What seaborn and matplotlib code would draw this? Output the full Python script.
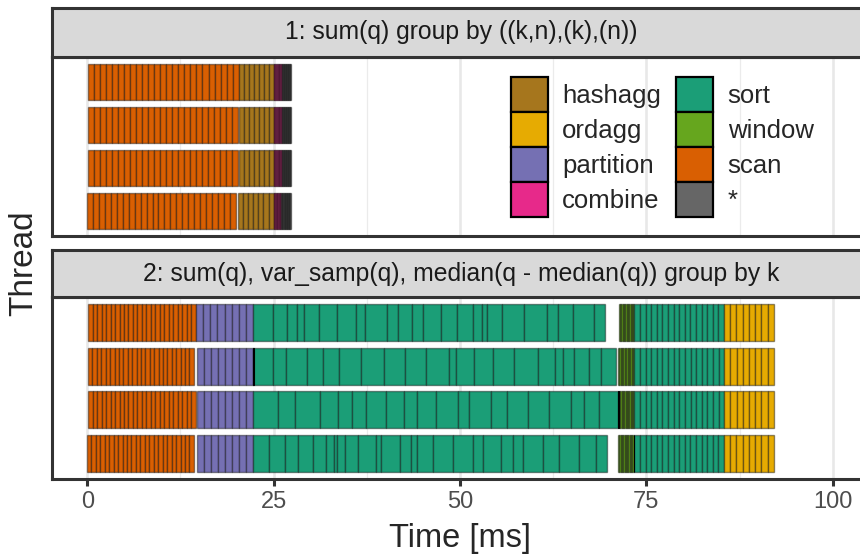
import numpy as np
import matplotlib
matplotlib.use("Agg")
import matplotlib.pyplot as plt
from matplotlib.patches import Patch
import seaborn as sns

sns.set_theme(style="white")
plt.rcParams["font.family"] = ["Liberation Sans", "DejaVu Sans"]

# operator palette (ColorBrewer Dark2)
dark2 = sns.color_palette("Dark2", 8).as_hex()
phase_colors = {
    "sort": dark2[0], "scan": dark2[1], "partition": dark2[2], "combine": dark2[3],
    "window": dark2[4], "ordagg": dark2[5], "hashagg": dark2[6], "*": dark2[7],
}
legend_order = ["hashagg", "ordagg", "partition", "combine", "sort", "window", "scan", "*"]

threads = [1, 2, 3, 4]
time_ticks = [0, 25, 50, 75, 100]

# ---- query 1 ---------------------------------------------------------------
q1_title = "1: sum(q) group by ((k,n),(k),(n))"
q1_phases = ["scan", "hashagg", "combine", "*"]
q1_start = [
    [0.10, 20.30, 25.00, 26.10],
    [0.10, 20.30, 25.00, 26.10],
    [0.10, 20.40, 25.00, 26.10],
    [-0.05, 20.20, 25.00, 26.00],
]
q1_end = [
    [20.30, 25.00, 26.10, 27.30],
    [20.20, 25.00, 26.10, 27.30],
    [20.20, 25.00, 26.10, 27.30],
    [19.95, 25.00, 26.00, 27.30],
]
q1_morsels = [25, 7, 10, 14]

# ---- query 2 ---------------------------------------------------------------
q2_title = "2: sum(q), var_samp(q), median(q - median(q)) group by k"
q2_phases = ["scan", "partition", "sort", "window", "sort", "ordagg"]
q2_start = [
    [0.10, 14.57, 22.29, 71.30, 73.40, 85.40],
    [0.10, 14.70, 22.29, 71.20, 73.40, 85.45],
    [0.10, 14.70, 22.29, 71.35, 73.40, 85.45],
    [-0.05, 14.70, 22.29, 71.20, 73.40, 85.40],
]
q2_end = [
    [14.57, 22.29, 69.44, 73.40, 85.40, 92.10],
    [14.30, 22.29, 70.87, 73.40, 85.45, 92.10],
    [14.57, 22.29, 71.22, 73.40, 85.45, 92.10],
    [14.30, 22.29, 69.67, 73.30, 85.40, 92.10],
]
q2_morsels = [24, 8, None, 12, 16, 8]
# morsel boundaries inside the first sort phase, per thread
q2_sort_cuts = [
    [24.97, 26.77, 28.19, 29.13, 31.10, 33.47, 36.06, 37.27, 40.17, 41.73, 43.61, 45.00,
     47.41, 49.56, 51.78, 52.91, 53.66, 55.59, 58.58, 61.62, 63.18, 65.11, 67.96],
    [24.97, 26.68, 29.53, 31.59, 33.82, 36.69, 39.81, 42.63, 45.40, 48.53, 49.46, 51.88,
     54.46, 57.28, 60.50, 62.73, 63.85, 65.32, 67.29, 68.86],
    [25.64, 27.88, 31.23, 33.61, 35.48, 37.40, 40.08, 42.49, 44.19, 46.78, 49.69, 51.25,
     54.16, 56.26, 59.16, 61.97, 64.84, 66.66, 68.63],
    [24.43, 26.54, 28.32, 30.34, 32.04, 33.11, 33.56, 34.58, 36.37, 38.70, 39.37, 41.96,
     43.39, 44.28, 46.34, 49.03, 51.79, 53.13, 55.50, 57.15, 58.49, 61.17, 63.31, 65.99,
     68.23],
]
# short uncategorised slivers (thread, start, end)
q2_slivers = [(2, 22.22, 22.34), (3, 71.18, 71.30), (4, 73.28, 73.40)]

W, H = 860, 556
X0_PX, X100_PX = 87.3, 832.7
PANEL_L, PANEL_R = 52, 870
px_per_ms = (X100_PX - X0_PX) / 100
xlim = ((PANEL_L - X0_PX) / px_per_ms, (PANEL_R - X0_PX) / px_per_ms)
BAR_H = 0.85
EDGE = (0, 0, 0, 0.42)
FRAME = "#333333"


def box(left, top, right, bottom):
    return [left / W, 1 - bottom / H, (right - left) / W, (bottom - top) / H]


def draw_query(ax, phases, starts, ends, morsels, cuts=None):
    for ti, t in enumerate(threads):
        for pi, ph in enumerate(phases):
            s, e = starts[ti][pi], ends[ti][pi]
            if morsels[pi] is None:
                edges = np.array([s] + cuts[ti] + [e])
            else:
                edges = np.linspace(s, e, morsels[pi] + 1)
            ax.barh([t] * (len(edges) - 1), np.diff(edges), left=edges[:-1],
                    height=BAR_H, color=phase_colors[ph], edgecolor=EDGE,
                    linewidth=1.0, zorder=2)


def style_panel(ax, show_x):
    ax.set_xlim(*xlim)
    ax.set_ylim(4.59, 0.41)
    ax.set_xticks(time_ticks)
    ax.set_xticks([12.5, 37.5, 62.5, 87.5], minor=True)
    ax.set_yticks([])
    ax.set_axisbelow(True)
    ax.grid(False)
    ax.grid(True, which="major", axis="x", color="#e8e8e8", linewidth=1.9)
    ax.grid(True, which="minor", axis="x", color="#ebebeb", linewidth=0.9)
    for sp in ax.spines.values():
        sp.set_color(FRAME)
        sp.set_linewidth(2.2)
        sp.set_visible(True)
    if show_x:
        ax.tick_params(axis="x", which="major", bottom=True, length=5, width=2.2,
                       color=FRAME, labelsize=17, labelcolor="#4d4d4d", pad=4)
    else:
        ax.tick_params(axis="x", which="both", bottom=False, labelbottom=False)
    ax.tick_params(axis="x", which="minor", bottom=False)
    ax.set_facecolor("white")


def add_strip(rect, title):
    sax = fig.add_axes(rect)
    sax.set_facecolor("#d9d9d9")
    sax.set_xticks([])
    sax.set_yticks([])
    for sp in sax.spines.values():
        sp.set_color(FRAME)
        sp.set_linewidth(2.2)
        sp.set_visible(True)
    sax.text(0.5, 0.5, title, transform=sax.transAxes, ha="center", va="center",
             fontsize=17.8, color="#1a1a1a")


fig = plt.figure(figsize=(W / 100, H / 100), dpi=100)

ax1 = fig.add_axes(box(PANEL_L, 57, PANEL_R, 236))
draw_query(ax1, q1_phases, q1_start, q1_end, q1_morsels)
style_panel(ax1, show_x=False)
add_strip(box(PANEL_L, 8, PANEL_R, 57), q1_title)

ax2 = fig.add_axes(box(PANEL_L, 297, PANEL_R, 479))
draw_query(ax2, q2_phases, q2_start, q2_end, q2_morsels, q2_sort_cuts)
for t, s, e in q2_slivers:
    ax2.barh([t], [e - s], left=[s], height=BAR_H, color=phase_colors["*"],
             edgecolor="black", linewidth=0.8, zorder=3)
style_panel(ax2, show_x=True)
add_strip(box(PANEL_L, 250, PANEL_R, 297), q2_title)

handles = [Patch(facecolor=phase_colors[p], edgecolor="black", linewidth=1.6, label=p)
           for p in legend_order]
ax1.legend(handles=handles, ncol=2, loc="upper left",
           bbox_to_anchor=(511 / W, 1 - 77 / H), bbox_transform=fig.transFigure,
           frameon=False, fontsize=18.5, handlelength=1.44, handleheight=1.72,
           labelspacing=0.0, handletextpad=0.55, columnspacing=0.6,
           borderpad=0, borderaxespad=0)

fig.text(460 / W, 1 - 538 / H, "Time [ms]", ha="center", va="center", fontsize=23.5)
fig.text(24 / W, 1 - 263 / H, "Thread", ha="center", va="center", fontsize=24,
         rotation=90)

fig.savefig("out.png", dpi=100)
